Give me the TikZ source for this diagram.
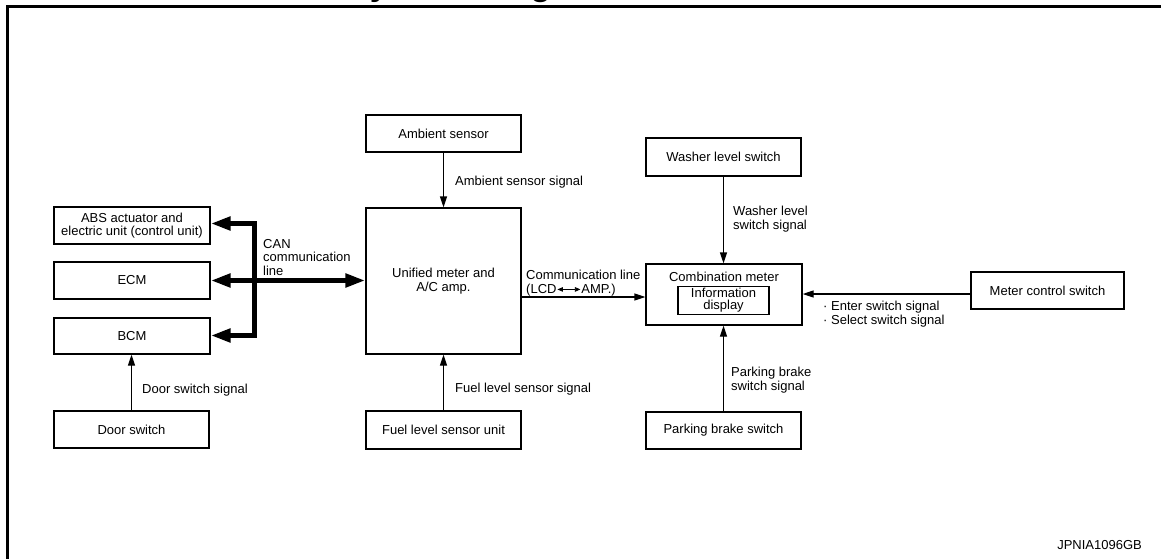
\documentclass[tikz,border=0pt]{standalone}
\usepackage{fontspec}
\setmainfont{Liberation Sans}
\usetikzlibrary{arrows.meta}
\begin{document}
\begin{tikzpicture}[x=1pt,y=-1pt,
  every node/.style={font=\fontsize{13}{13.5}\selectfont},
  box/.style={draw, line width=1.3pt, minimum width=155pt, minimum height=37pt, inner sep=0pt, align=center},
  lbl/.style={inner sep=0pt, anchor=north west, align=left},
  arr/.style={line width=1.3pt, -{Triangle[length=11pt,width=7pt]}},
  bus/.style={line width=5pt, line join=miter, {Triangle[length=20pt,width=13pt]}-{Triangle[length=20pt,width=13pt]}},
  frame/.style={line width=3pt}]
\useasboundingbox (0,0) rectangle (1161,559);
\begin{scope}
\clip (0,0) rectangle (1161,559);
\node[anchor=base west, inner sep=0pt, font=\fontsize{34}{34}\selectfont\bfseries] (title) at (347,-4.2) {System Diagram};
\draw[frame] (7.5,580) -- (7.5,6.5) -- (1180,6.5);
\end{scope}

% boxes
\node[box, minimum width=156pt] (abs) at (132,225.5) {ABS actuator and\\electric unit (control unit)};
\node[box, minimum width=156pt] (ecm) at (132,280.5) {ECM};
\node[box, minimum width=156pt, minimum height=36pt] (bcm) at (132,336) {BCM};
\node[box] (door) at (131.5,429.5) {Door switch};
\node[box] (amb) at (443.5,133.5) {Ambient sensor};
\node[box, minimum height=146pt] (uni) at (443.5,281) {Unified meter and\\A/C amp.};
\node[box, minimum height=38pt] (fuel) at (443.5,430) {Fuel level sensor unit};
\node[box, minimum height=38pt] (wash) at (723.5,157) {Washer level switch};
\node[box, minimum width=156pt, minimum height=61pt] (comb) at (724,294.5) {};
\node[inner sep=0pt, anchor=north] (combt) at (724,272) {Combination meter};
\node[draw, line width=1.3pt, minimum width=91pt, minimum height=28pt, inner sep=0pt, align=center,
      font=\fontsize{13}{12.2}\selectfont] (info) at (723.5,300.5) {Information\\display};
\node[box] (park) at (723.5,430.5) {Parking brake switch};
\node[box, minimum width=153pt] (meter) at (1047.5,290.5) {Meter control switch};

% coordinates
\coordinate (busTop) at (254,223.5);
\coordinate (busBot) at (254,335.5);
\coordinate (commY) at (0,297);
\coordinate (mcY) at (0,294);

% CAN bus
\draw[bus] (abs.east |- busTop) -- (busTop) -- (busBot) -- (bcm.east |- busBot);
\draw[bus] (ecm.east) -- (uni.west |- ecm.east);

% signals
\draw[arr] (door.north) -- (door.north |- bcm.south);
\draw[arr] (amb.south) -- (uni.north);
\draw[arr] (fuel.north) -- (uni.south);
\draw[arr] (uni.east |- commY) -- (comb.west |- commY);
\draw[arr] (wash.south) -- (wash.south |- comb.north);
\draw[arr] (park.north) -- (park.north |- comb.south);
\draw[arr] (meter.west |- mcY) -- (comb.east |- mcY);

% labels
\node[lbl] (canl) at (263,239) {CAN\\communication\\line};
\node[lbl] (doorl) at (142,384) {Door switch signal};
\node[lbl] (ambl) at (455,176) {Ambient sensor signal};
\node[lbl] (fuell) at (455,383) {Fuel level sensor signal};
\node[lbl] (comml) at (526,270) {Communication line\\(LCD\kern0.5pt\tikz[baseline=-3.7pt]\draw[line width=0.8pt,{Triangle[length=5.5pt,width=4.5pt]}-{Triangle[length=5.5pt,width=4.5pt]}] (0pt,0pt) -- (23pt,0pt);\kern0.5pt AMP.)};
\node[lbl] (washl) at (733,206) {Washer level\\switch signal};
\node[lbl] (parkl) at (731,367) {Parking brake\\switch signal};
\node[lbl] (meterl) at (823,301) {· Enter switch signal\\· Select switch signal};
\node[inner sep=0pt, anchor=north east] (code) at (1142,540) {JPNIA1096GB};
\end{tikzpicture}
\end{document}
